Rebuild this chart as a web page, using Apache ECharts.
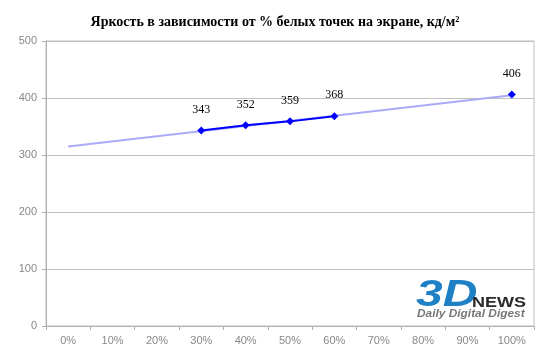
<!DOCTYPE html>
<html>
<head>
<meta charset="utf-8">
<script src="https://cdn.jsdelivr.net/npm/echarts@6/dist/echarts.min.js"></script>
<style>html,body{margin:0;padding:0;background:#fff;}#c{width:550px;height:356px;}</style>
</head>
<body>
<div id="c"></div>
<script>
var categories = ['0%','10%','20%','30%','40%','50%','60%','70%','80%','90%','100%'];
var brightness = [null,null,null,343,352,359,368,null,null,null,406];
var trendValues = [315,null,null,null,null,null,null,null,null,null,405];
var yTicks = [0,100,200,300,400,500];
var titleText = 'Яркость в зависимости от % белых точек на экране, кд/м²';

var chart = echarts.init(document.getElementById('c'));
chart.setOption({
  animation: false,
  backgroundColor: '#ffffff',
  title: {
    text: titleText,
    left: 'center',
    top: 10,
    textStyle: { fontFamily: 'Liberation Serif', fontWeight: 'bold', fontSize: 14, color: '#000' }
  },
  grid: { left: 46, right: 16, top: 41, bottom: 30, show: true, borderColor: '#c0c0c0', borderWidth: 1 },
  xAxis: {
    type: 'category',
    data: categories,
    boundaryGap: true,
    axisLine: { lineStyle: { color: '#b0b0b0' } },
    axisTick: { show: true, length: 4, inside: false, lineStyle: { color: '#b0b0b0' } },
    axisLabel: { color: '#888888', fontFamily: 'Liberation Sans', fontSize: 11, margin: 9 },
    splitLine: { show: false }
  },
  yAxis: {
    type: 'value',
    min: yTicks[0],
    max: yTicks[yTicks.length - 1],
    interval: 100,
    axisLine: { show: true, lineStyle: { color: '#b0b0b0' } },
    axisTick: { show: true, length: 4, lineStyle: { color: '#b0b0b0' } },
    axisLabel: { color: '#888888', fontFamily: 'Liberation Sans', fontSize: 11, margin: 9 },
    splitLine: { show: true, lineStyle: { color: '#c0c0c0', width: 1 } }
  },
  graphic: [
    { type: 'text', left: 416, top: 277, style: { text: '3D', font: 'italic bold 37px "Liberation Sans"', fill: '#1f80c6' }, scaleX: 1.3 },
    { type: 'text', left: 472, top: 295, style: { text: 'NEWS', font: 'bold 15px "Liberation Sans"', fill: '#2a2a2a' }, scaleX: 1.2 },
    { type: 'text', left: 417, top: 308, style: { text: 'Daily Digital Digest', font: 'italic bold 11px "Liberation Sans"', fill: '#777777' }, scaleX: 1.08 }
  ],
  series: [
    {
      type: 'line',
      data: trendValues,
      connectNulls: true,
      symbol: 'none',
      lineStyle: { color: '#aaaaf8', width: 2 },
      z: 1,
      silent: true
    },
    {
      type: 'line',
      data: brightness,
      connectNulls: false,
      symbol: 'diamond',
      symbolSize: 8,
      itemStyle: { color: '#0000ff' },
      lineStyle: { color: '#0000ff', width: 2 },
      label: { show: true, position: 'top', distance: 11, color: '#000', fontFamily: 'Liberation Serif', fontSize: 12 },
      z: 3
    }
  ]
});
</script>
</body>
</html>
